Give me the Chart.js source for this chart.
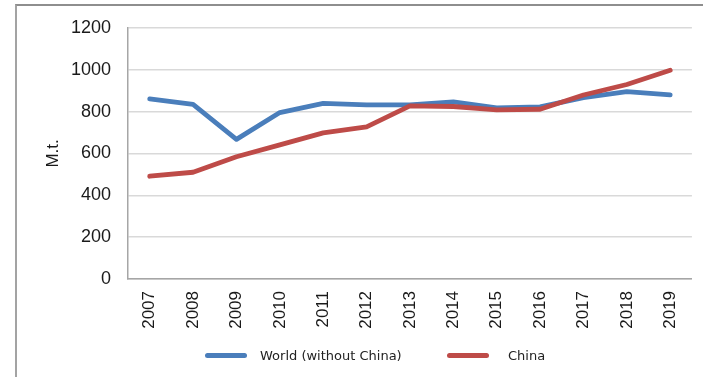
<!DOCTYPE html>
<html>
<head>
<meta charset="utf-8">
<script src="https://cdn.jsdelivr.net/npm/chart.js@4.4.0/dist/chart.umd.min.js"></script>
<style>
html,body{margin:0;padding:0;background:#fff;}
#wrap{position:relative;width:703px;height:377px;overflow:hidden;}
#frame{position:absolute;left:15px;top:4px;width:720px;height:400px;border-left:2px solid #a3a3a3;border-top:2px solid #8e8e8e;box-sizing:border-box;}
#chart{position:absolute;left:0;top:0;}
#legend{position:absolute;left:0;top:346px;width:703px;height:20px;font-family:"DejaVu Sans",sans-serif;font-size:13px;color:#222;}
.sw{position:absolute;top:7px;width:42px;height:5px;border-radius:2.5px;}
.lt{position:absolute;top:0;line-height:19px;white-space:nowrap;}
</style>
</head>
<body>
<div id="wrap">
  <div id="frame"></div>
  <canvas id="chart" width="703" height="377"></canvas>
  <div id="legend">
    <div class="sw" id="sw0" style="left:205px;"></div>
    <div class="lt" id="lt0" style="left:260px;"></div>
    <div class="sw" id="sw1" style="left:447px;"></div>
    <div class="lt" id="lt1" style="left:508px;"></div>
  </div>
</div>
<script>
const categories = ['2007','2008','2009','2010','2011','2012','2013','2014','2015','2016','2017','2018','2019'];
const worldWithoutChina = [860, 834, 667, 795, 839, 832, 832, 846, 817, 822, 866, 895, 880];
const china = [491, 510, 584, 641, 698, 727, 827, 824, 808, 811, 879, 929, 997];
const yTicks = [0, 200, 400, 600, 800, 1000, 1200];
const seriesNames = ['World (without China)', 'China'];
const yTitle = 'M.t.';

const blue = '#4a7ebb';
const red = '#be4b48';

document.getElementById('sw0').style.background = blue;
document.getElementById('sw1').style.background = red;
document.getElementById('lt0').textContent = seriesNames[0];
document.getElementById('lt1').textContent = seriesNames[1];

new Chart(document.getElementById('chart'), {
  type: 'line',
  data: {
    labels: categories,
    datasets: [
      {label: seriesNames[0], data: worldWithoutChina, borderColor: blue, backgroundColor: blue,
       borderWidth: 4.8, pointRadius: 0, tension: 0, order: 1, borderJoinStyle: 'round', borderCapStyle: 'round'},
      {label: seriesNames[1], data: china, borderColor: red, backgroundColor: red,
       borderWidth: 4.8, pointRadius: 0, tension: 0, order: 0, borderJoinStyle: 'round', borderCapStyle: 'round'}
    ]
  },
  options: {
    responsive: false,
    animation: false,
    events: [],
    layout: {padding: {left: 0, top: 24, right: 10, bottom: 0}},
    plugins: {legend: {display: false}, tooltip: {enabled: false}},
    scales: {
      x: {
        type: 'category',
        offset: true,
        grid: {display: false, drawTicks: false, color: 'rgba(0,0,0,0)'},
        border: {display: true, color: '#a6a6a6', width: 1.5},
        ticks: {minRotation: 90, maxRotation: 90, padding: 12, color: '#1a1a1a',
                font: {family: '"Liberation Sans", Arial, sans-serif', size: 17}},
        afterFit: s => { s.height = 98; }
      },
      y: {
        min: 0, max: 1200,
        afterBuildTicks: s => { s.ticks = yTicks.map(v => ({value: v})); },
        grid: {color: '#d9d9d9', lineWidth: 1.5, drawTicks: false},
        border: {display: true, color: '#a6a6a6', width: 1.5},
        ticks: {padding: 17, color: '#1a1a1a', callback: v => String(v),
                font: {family: '"Liberation Sans", Arial, sans-serif', size: 18}},
        title: {display: true, text: yTitle, color: '#1a1a1a', padding: {top: 43, bottom: 0},
                font: {family: '"Liberation Sans", Arial, sans-serif', size: 17}},
        afterFit: s => { s.width = 128; }
      }
    }
  }
});
</script>
</body>
</html>
